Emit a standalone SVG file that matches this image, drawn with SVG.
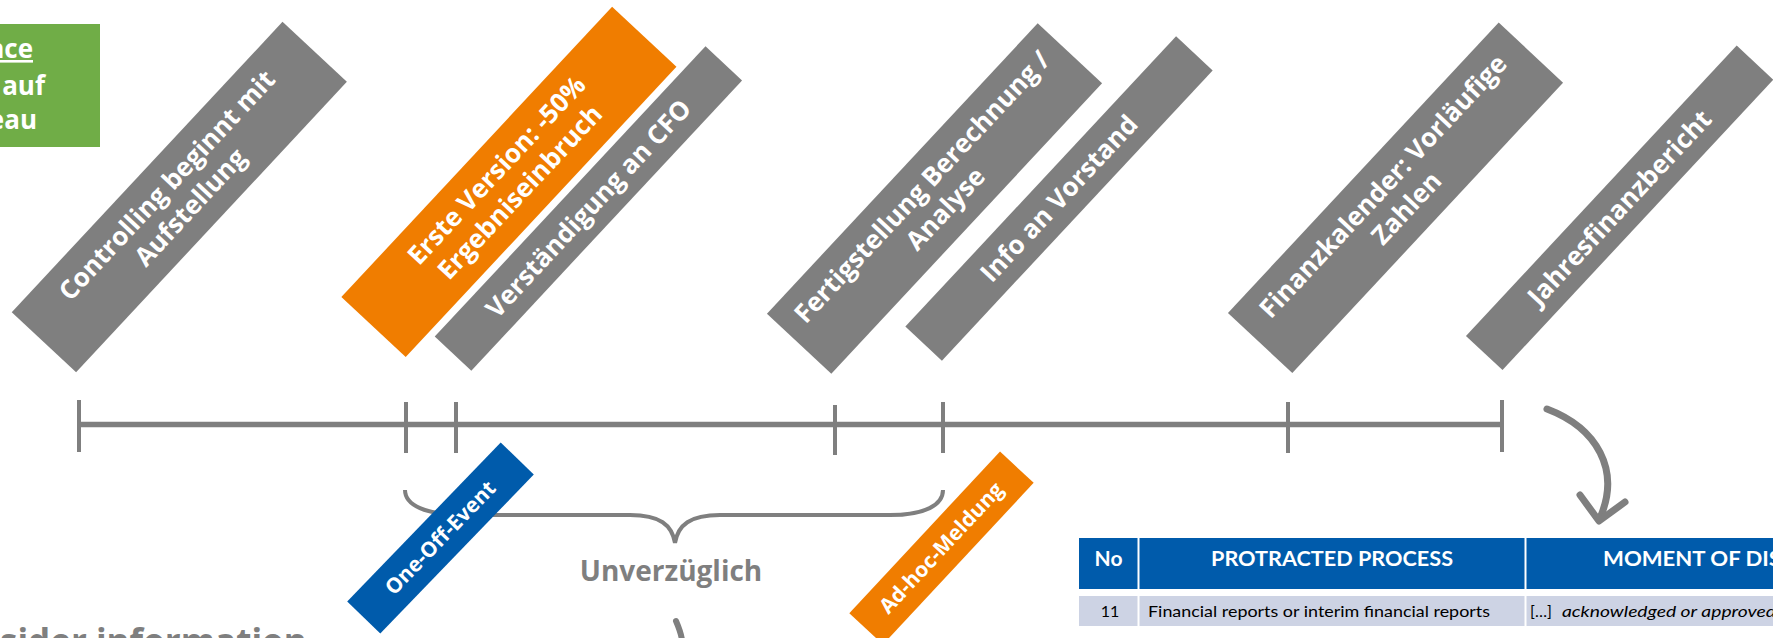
<svg xmlns="http://www.w3.org/2000/svg" width="1773" height="638" viewBox="0 0 1773 638">
<style>
.gray{fill:#7f7f7f}
.orange{fill:#f07d00}
.blue{fill:#005bab}
.green{fill:#70ad47}
.lbl{font-family:'Open Sans','Liberation Sans',sans-serif;font-weight:700;fill:#fff;font-size:26px;text-anchor:middle}
.sm{font-size:21px}
.ln{stroke:#7f7f7f;fill:none}
.gtxt{font-family:'Open Sans','Liberation Sans',sans-serif;font-weight:700;fill:#7f7f7f}
.th{font-family:Lato,'Liberation Sans',sans-serif;font-weight:700;fill:#fff;font-size:21px}
.td{font-family:Lato,'Liberation Sans',sans-serif;fill:#000;font-size:16px}
</style>
<rect width="1773" height="638" fill="#fff"/>

<g id="green-box">
<rect class="green" x="0" y="24" width="100" height="123"/>
<text class="lbl" style="text-anchor:end" x="33" y="58" text-decoration="underline">nce</text>
<text class="lbl" style="text-anchor:end" x="45" y="95">auf</text>
<text class="lbl" style="text-anchor:end" x="37" y="129">eau</text>
</g>

<g id="connectors">
<line class="ln" x1="79" y1="424.5" x2="1502" y2="424.5" stroke-width="5.5"/>
<g stroke-width="4">
<line class="ln" x1="79" y1="400" x2="79" y2="452"/>
<line class="ln" x1="406" y1="402" x2="406" y2="453"/>
<line class="ln" x1="456" y1="402" x2="456" y2="453"/>
<line class="ln" x1="835" y1="405" x2="835" y2="455"/>
<line class="ln" x1="943" y1="402" x2="943" y2="453"/>
<line class="ln" x1="1288" y1="402" x2="1288" y2="453"/>
<line class="ln" x1="1502" y1="400" x2="1502" y2="452"/>
</g>
<path class="ln" stroke-width="4" d="M405,490 C405,505 425,515 465,515 L630,515 C660,515 672,525 675,543 C678,525 690,515 720,515 L890,515 C925,515 943,505 943,490"/>
<path class="ln" stroke-width="7" stroke-linecap="round" d="M1547,409 C1597,428 1621,470 1600,518"/>
<polyline class="ln" stroke-width="7" stroke-linecap="round" stroke-linejoin="round" points="1580,495 1599,521 1625,502"/>
<path class="ln" stroke-width="6" stroke-linecap="round" d="M676,621 C679,628 681,633 682,640"/>
</g>

<g id="n-controlling" transform="translate(179.3,197) rotate(-47)">
<rect class="gray" x="-198.5" y="-44" width="397" height="88"/>
<text class="lbl" x="0" y="-8">Controlling beginnt mit</text>
<text class="lbl" x="0" y="24">Aufstellung</text>
</g>

<g id="n-erste" transform="translate(508.9,181.9) rotate(-47)">
<rect class="orange" x="-198.5" y="-44" width="397" height="88"/>
<text class="lbl" x="0" y="-8">Erste Version: -50%</text>
<text class="lbl" x="0" y="24">Ergebniseinbruch</text>
</g>

<g id="n-cfo" transform="translate(588.4,208.5) rotate(-47)">
<rect class="gray" x="-198.5" y="-25" width="397" height="50"/>
<text class="lbl" x="0" y="9">Verständigung an CFO</text>
</g>

<g id="n-fertig" transform="translate(934.5,198.5) rotate(-47)">
<rect class="gray" x="-198.5" y="-44" width="397" height="88"/>
<text class="lbl" x="0" y="-8">Fertigstellung Berechnung /</text>
<text class="lbl" x="0" y="24">Analyse</text>
</g>

<g id="n-vorstand" transform="translate(1059,198.5) rotate(-47)">
<rect class="gray" x="-198.5" y="-25" width="397" height="50"/>
<text class="lbl" x="0" y="9">Info an Vorstand</text>
</g>

<g id="n-finanz" transform="translate(1395.5,197.8) rotate(-47)">
<rect class="gray" x="-198.5" y="-44" width="397" height="88"/>
<text class="lbl" x="0" y="-8">Finanzkalender: Vorläufige</text>
<text class="lbl" x="0" y="24">Zahlen</text>
</g>

<g id="n-jahres" transform="translate(1619.6,207.8) rotate(-47)">
<rect class="gray" x="-198.5" y="-25" width="397" height="50"/>
<text class="lbl" x="0" y="9">Jahresfinanzbericht</text>
</g>

<g id="n-oneoff" transform="translate(440.5,538) rotate(-46)">
<rect class="blue" x="-110.5" y="-23" width="221" height="46"/>
<text class="lbl sm" x="0" y="7">One-Off-Event</text>
</g>

<g id="n-adhoc" transform="translate(941.5,548) rotate(-47)">
<rect class="orange" x="-110.5" y="-23" width="221" height="46"/>
<text class="lbl sm" x="0" y="7">Ad-hoc-Meldung</text>
</g>

<g id="n-unverzueglich">
<text class="gtxt" x="671" y="581" font-size="28" text-anchor="middle">Unverzüglich</text>
</g>

<g id="n-insider">
<text class="gtxt" x="0" y="654" font-size="35">sider information</text>
</g>

<g id="n-table">
<rect class="blue" x="1079" y="538" width="58.5" height="51"/>
<rect class="blue" x="1139.5" y="538" width="385" height="51"/>
<rect class="blue" x="1526.5" y="538" width="250" height="51"/>
<rect fill="#cdd3e4" x="1079" y="596" width="58.5" height="30"/>
<rect fill="#cdd3e4" x="1139.5" y="596" width="385" height="30"/>
<rect fill="#cdd3e4" x="1526.5" y="596" width="250" height="30"/>
<text class="th" x="1108.5" y="566" text-anchor="middle">No</text>
<text class="th" x="1332" y="566" text-anchor="middle" textLength="242" lengthAdjust="spacingAndGlyphs">PROTRACTED PROCESS</text>
<text class="th" x="1603" y="566" textLength="178" lengthAdjust="spacingAndGlyphs">MOMENT OF DIS</text>
<text class="td" x="1110" y="617" text-anchor="middle">11</text>
<text class="td" x="1148" y="617" textLength="342" lengthAdjust="spacingAndGlyphs">Financial reports or interim financial reports</text>
<text class="td" x="1530" y="617">[…]</text>
<text class="td" x="1562" y="617" font-style="italic" textLength="214" lengthAdjust="spacingAndGlyphs">acknowledged or approved</text>
</g>
</svg>
